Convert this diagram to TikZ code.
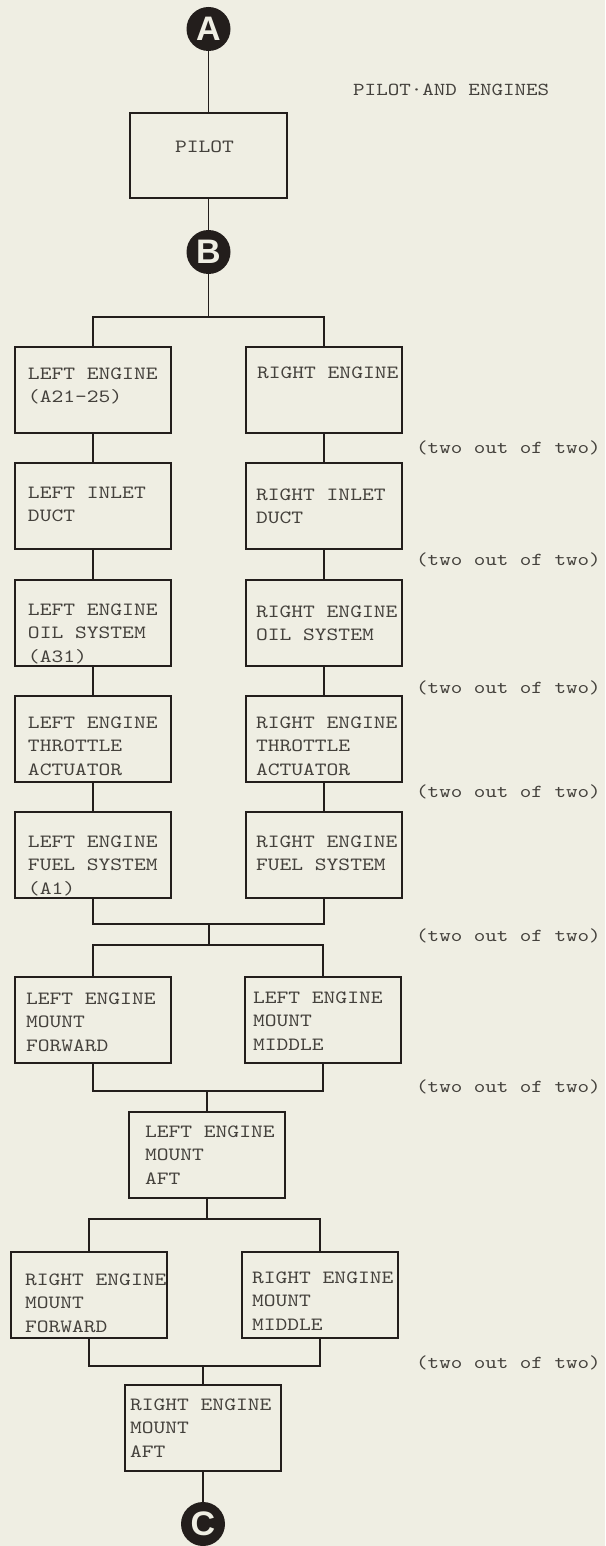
\documentclass[tikz,border=0pt]{standalone}
\usepackage{fontspec}
\setmainfont{Liberation Mono}
\newfontfamily\circfont{Liberation Sans}
\newfontfamily\tw[FakeStretch=1.2]{lmmono10-regular.otf}
\definecolor{paper}{RGB}{239,238,227}
\definecolor{ink}{RGB}{35,30,28}
\definecolor{typeink}{RGB}{68,65,60}
% #1 left offset, #2 first baseline from top, #3 text
\newcommand{\bt}[3]{\parbox[c][86pt][t]{156pt}{\raggedright\leftskip=#1pt\relax\rule{0pt}{#2pt}#3}}
\begin{document}
\begin{tikzpicture}[x=1pt,y=-1pt,
  box/.style={draw=ink, line width=1.7pt, inner sep=0pt, outer sep=0pt, anchor=north west, text=typeink,
              font=\tw\fontsize{18.7}{23.3}\selectfont},
  conn/.style={draw=ink, line width=1.3pt},
  circ/.style={circle, fill=ink, minimum size=44pt, inner sep=0pt, outer sep=0pt, text=paper,
               font=\circfont\bfseries\fontsize{34}{34}\selectfont},
  lab/.style={anchor=west, text=typeink, inner sep=0pt, font=\tw\fontsize{18.3}{23.3}\selectfont}]
\fill[paper] (0,0) rectangle (605,1546);
\useasboundingbox (0,0) rectangle (605,1546);

% title and labels
\node[lab] (title) at (353,90) {PILOT·AND ENGINES};
\node[lab] (t1) at (416,448) {(two out of two)};
\node[lab] (t2) at (416,560) {(two out of two)};
\node[lab] (t3) at (416,688) {(two out of two)};
\node[lab] (t4) at (416,792) {(two out of two)};
\node[lab] (t5) at (416,936) {(two out of two)};
\node[lab] (t6) at (416,1087) {(two out of two)};
\node[lab] (t7) at (416,1363) {(two out of two)};

% connectors-circles
\node[circ] (A) at (208.5,29) {A};
\node[box] (pilot) at (130,113) {\parbox[c][85pt][t]{157pt}{\raggedright\leftskip=45pt\relax\rule{0pt}{39.5pt}PILOT}};
\node[circ] (B) at (208.5,252) {B};

% engine columns
\node[box] (le) at (15,347) {\bt{13}{32.5}{LEFT ENGINE\\(A21-25)}};
\node[box] (re) at (246,347) {\bt{11}{31.5}{RIGHT ENGINE}};
\node[box] (li) at (15,463) {\bt{13}{35.5}{LEFT INLET\\DUCT}};
\node[box] (ri) at (246,463) {\bt{10}{37.5}{RIGHT INLET\\DUCT}};
\node[box] (lo) at (15,580) {\bt{13}{35.5}{LEFT ENGINE\\OIL SYSTEM\\(A31)}};
\node[box] (ro) at (246,580) {\bt{10}{37.5}{RIGHT ENGINE\\OIL SYSTEM}};
\node[box] (lt) at (15,696) {\bt{13}{32.5}{LEFT ENGINE\\THROTTLE\\ACTUATOR}};
\node[box] (rt) at (246,696) {\bt{10}{32.5}{RIGHT ENGINE\\THROTTLE\\ACTUATOR}};
\node[box] (lf) at (15,812) {\bt{13}{35.5}{LEFT ENGINE\\FUEL SYSTEM\\(A1)}};
\node[box] (rf) at (246,812) {\bt{10}{35.5}{RIGHT ENGINE\\FUEL SYSTEM}};

% mounts
\node[box] (lmf) at (15,977) {\bt{11}{27.5}{LEFT ENGINE\\MOUNT\\FORWARD}};
\node[box] (lmm) at (245,977) {\bt{8}{26.5}{LEFT ENGINE\\MOUNT\\MIDDLE}};
\node[box] (lma) at (129,1112) {\bt{16}{25.5}{LEFT ENGINE\\MOUNT\\AFT}};
\node[box] (rmf) at (11,1252) {\bt{14}{33.5}{RIGHT ENGINE\\MOUNT\\FORWARD}};
\node[box] (rmm) at (242,1252) {\bt{10}{31.5}{RIGHT ENGINE\\MOUNT\\MIDDLE}};
\node[box] (rma) at (125,1385) {\bt{5}{25.5}{RIGHT ENGINE\\MOUNT\\AFT}};
\node[circ] (C) at (203,1524) {C};

% junction levels
\coordinate (h1) at (0,317);
\coordinate (h4) at (0,1091);
\coordinate (h5) at (0,1219);
\coordinate (h6) at (0,1366);
% junction points
\coordinate (j1) at (B |- h1);
\coordinate (j2) at (209,924);
\coordinate (j3) at (209,945);
\coordinate (j4) at (lma.north |- h4);
\coordinate (j5) at (lma.south |- h5);
\coordinate (j6) at (rma.north |- h6);

% lines
\draw[conn] (A) -- (pilot.north);
\draw[conn] (pilot.south) -- (B);
\draw[conn] (B) -- (j1);
\draw[conn] (le.north) -- (le.north |- j1) -| (re.north);
\draw[conn] (le.south) -- (li.north);
\draw[conn] (li.south) -- (lo.north);
\draw[conn] (lo.south) -- (lt.north);
\draw[conn] (lt.south) -- (lf.north);
\draw[conn] (re.south) -- (ri.north);
\draw[conn] (ri.south) -- (ro.north);
\draw[conn] (ro.south) -- (rt.north);
\draw[conn] (rt.south) -- (rf.north);
\draw[conn] (lf.south) -- (lf.south |- j2) -| (rf.south);
\draw[conn] (j2) -- (j3);
\draw[conn] (lmf.north) -- (lmf.north |- j3) -| (lmm.north);
\draw[conn] (lmf.south) -- (lmf.south |- j4) -| (lmm.south);
\draw[conn] (j4) -- (lma.north);
\draw[conn] (lma.south) -- (j5);
\draw[conn] (rmf.north) -- (rmf.north |- j5) -| (rmm.north);
\draw[conn] (rmf.south) -- (rmf.south |- j6) -| (rmm.south);
\draw[conn] (j6) -- (rma.north);
\draw[conn] (rma.south) -- (C);
\end{tikzpicture}
\end{document}
